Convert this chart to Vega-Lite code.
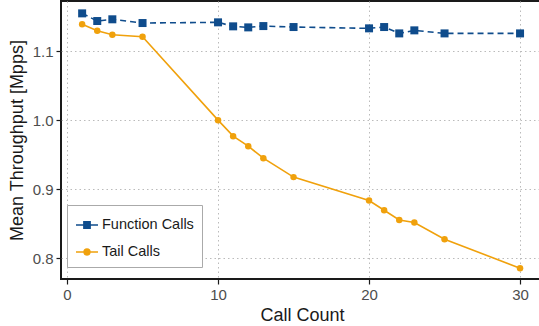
{
  "$schema": "https://vega.github.io/schema/vega-lite/v6.json",
  "width": 482,
  "height": 278,
  "autosize": "none",
  "padding": {"left": 61, "top": 1, "right": 0, "bottom": 47},
  "background": "white",
  "config": {
    "font": "Liberation Sans",
    "view": {"stroke": "#1a1a1a", "strokeWidth": 2},
    "axis": {
      "gridColor": "#bbbbbb",
      "gridDash": [1.5, 3],
      "gridWidth": 1,
      "domain": false,
      "tickColor": "#1a1a1a",
      "tickWidth": 1.2,
      "tickSize": 5,
      "labelFontSize": 15,
      "labelColor": "#4d4d4d",
      "titleFontSize": 18,
      "titleFontWeight": "normal",
      "titleColor": "#1a1a1a"
    }
  },
  "data": {
    "values": [
      {"calls": 1, "series": "Function Calls", "mpps": 1.1546},
      {"calls": 2, "series": "Function Calls", "mpps": 1.1435},
      {"calls": 3, "series": "Function Calls", "mpps": 1.146},
      {"calls": 5, "series": "Function Calls", "mpps": 1.1406},
      {"calls": 10, "series": "Function Calls", "mpps": 1.1416},
      {"calls": 11, "series": "Function Calls", "mpps": 1.1358},
      {"calls": 12, "series": "Function Calls", "mpps": 1.1343},
      {"calls": 13, "series": "Function Calls", "mpps": 1.1362},
      {"calls": 15, "series": "Function Calls", "mpps": 1.1348},
      {"calls": 20, "series": "Function Calls", "mpps": 1.1329},
      {"calls": 21, "series": "Function Calls", "mpps": 1.1348},
      {"calls": 22, "series": "Function Calls", "mpps": 1.1256},
      {"calls": 23, "series": "Function Calls", "mpps": 1.13},
      {"calls": 25, "series": "Function Calls", "mpps": 1.1256},
      {"calls": 30, "series": "Function Calls", "mpps": 1.1256},
      {"calls": 1, "series": "Tail Calls", "mpps": 1.1387},
      {"calls": 2, "series": "Tail Calls", "mpps": 1.1294},
      {"calls": 3, "series": "Tail Calls", "mpps": 1.1236},
      {"calls": 5, "series": "Tail Calls", "mpps": 1.1207},
      {"calls": 10, "series": "Tail Calls", "mpps": 1.0},
      {"calls": 11, "series": "Tail Calls", "mpps": 0.9768},
      {"calls": 12, "series": "Tail Calls", "mpps": 0.9623},
      {"calls": 13, "series": "Tail Calls", "mpps": 0.9449},
      {"calls": 15, "series": "Tail Calls", "mpps": 0.9175},
      {"calls": 20, "series": "Tail Calls", "mpps": 0.8836},
      {"calls": 21, "series": "Tail Calls", "mpps": 0.8696},
      {"calls": 22, "series": "Tail Calls", "mpps": 0.8555},
      {"calls": 23, "series": "Tail Calls", "mpps": 0.8517},
      {"calls": 25, "series": "Tail Calls", "mpps": 0.8275},
      {"calls": 30, "series": "Tail Calls", "mpps": 0.7857}
    ]
  },
  "encoding": {
    "x": {
      "field": "calls",
      "type": "quantitative",
      "scale": {"domain": [-0.4, 31.52], "nice": false, "zero": false},
      "axis": {"values": [0, 10, 20, 30], "title": "Call Count", "titlePadding": 4, "labelPadding": 3}
    },
    "y": {
      "field": "mpps",
      "type": "quantitative",
      "scale": {"domain": [0.770, 1.1725], "nice": false, "zero": false},
      "axis": {"values": [0.8, 0.9, 1.0, 1.1], "format": ".1f", "title": "Mean Throughput [Mpps]", "titlePadding": 6, "labelPadding": 3}
    },
    "color": {
      "field": "series",
      "type": "nominal",
      "scale": {"domain": ["Function Calls", "Tail Calls"], "range": ["#0f4c8c", "#f0a10c"]},
      "legend": {
        "title": null,
        "orient": "none",
        "legendX": 6,
        "legendY": 204,
        "padding": 8,
        "strokeColor": "#aaaaaa",
        "fillColor": "white",
        "labelFontSize": 14.5,
        "labelColor": "#1a1a1a",
        "labelOffset": 3,
        "rowPadding": 8,
        "symbolSize": 484,
        "symbolStrokeWidth": 1.6,
        "symbolOpacity": 1,
        "encode": {
          "symbols": {
            "update": {
              "shape": {"signal": "datum.value == 'Function Calls' ? 'M -1 0 L 1 0 M -0.28 -0.28 L 0.28 -0.28 L 0.28 0.28 L -0.28 0.28 Z' : 'M -1 0 L 1 0 M 0.26 0 A 0.26 0.26 0 1 1 -0.26 0 A 0.26 0.26 0 1 1 0.26 0 Z'"}
            }
          }
        }
      }
    }
  },
  "layer": [
    {
      "transform": [{"filter": "datum.series == 'Function Calls'"}],
      "mark": {"type": "line", "strokeWidth": 1.6, "strokeDash": [6, 4]}
    },
    {
      "transform": [{"filter": "datum.series == 'Tail Calls'"}],
      "mark": {"type": "line", "strokeWidth": 1.6}
    },
    {
      "transform": [{"filter": "datum.series == 'Function Calls'"}],
      "mark": {"type": "point", "filled": true, "opacity": 1, "shape": "square", "size": 64}
    },
    {
      "transform": [{"filter": "datum.series == 'Tail Calls'"}],
      "mark": {"type": "point", "filled": true, "opacity": 1, "shape": "circle", "size": 42}
    }
  ]
}
